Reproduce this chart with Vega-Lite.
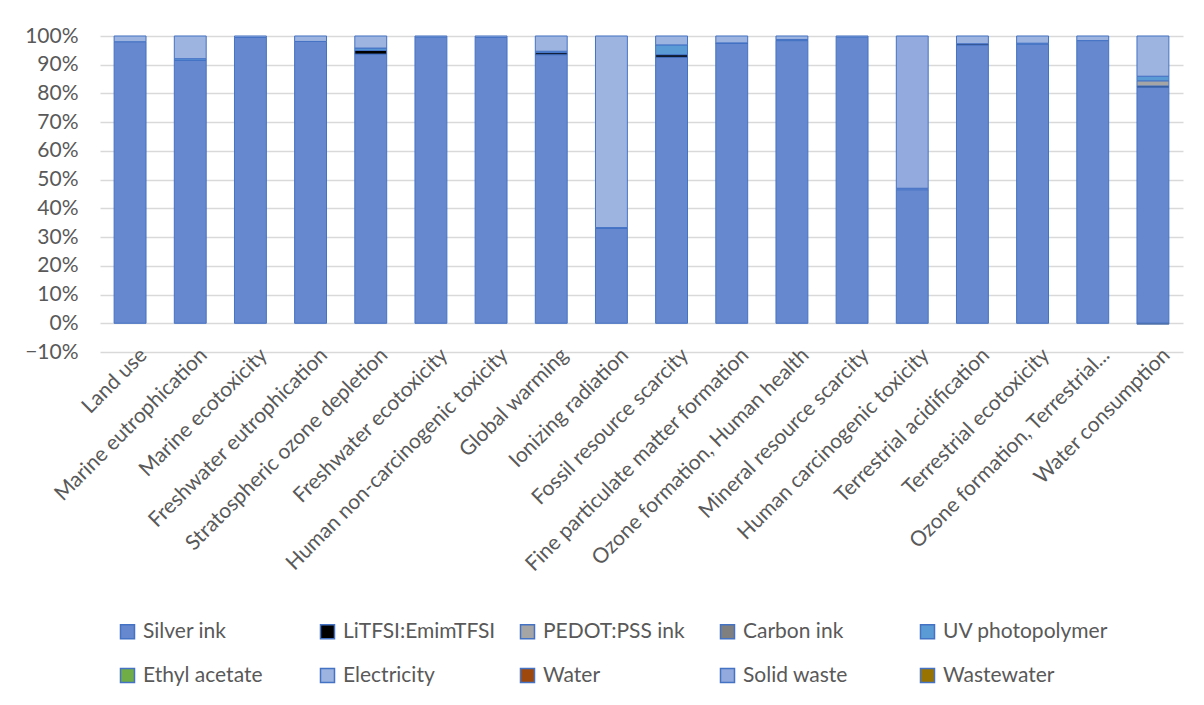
{
  "$schema": "https://vega.github.io/schema/vega-lite/v6.json",
  "width": 1083,
  "height": 316,
  "autosize": {"type": "none"},
  "padding": {"left": 100, "top": 36, "right": 21, "bottom": 353},
  "background": "white",
  "data": {
    "values": [
      {"impact": "Land use", "source": "Silver ink", "value": 0.980},
      {"impact": "Land use", "source": "Electricity", "value": 0.020},
      {"impact": "Marine eutrophication", "source": "Silver ink", "value": 0.915},
      {"impact": "Marine eutrophication", "source": "UV photopolymer", "value": 0.006},
      {"impact": "Marine eutrophication", "source": "Electricity", "value": 0.079},
      {"impact": "Marine ecotoxicity", "source": "Silver ink", "value": 0.995},
      {"impact": "Marine ecotoxicity", "source": "Electricity", "value": 0.005},
      {"impact": "Freshwater eutrophication", "source": "Silver ink", "value": 0.981},
      {"impact": "Freshwater eutrophication", "source": "Electricity", "value": 0.019},
      {"impact": "Stratospheric ozone depletion", "source": "Silver ink", "value": 0.937},
      {"impact": "Stratospheric ozone depletion", "source": "LiTFSI:EmimTFSI", "value": 0.013},
      {"impact": "Stratospheric ozone depletion", "source": "UV photopolymer", "value": 0.008},
      {"impact": "Stratospheric ozone depletion", "source": "Electricity", "value": 0.042},
      {"impact": "Freshwater ecotoxicity", "source": "Silver ink", "value": 0.996},
      {"impact": "Freshwater ecotoxicity", "source": "Electricity", "value": 0.004},
      {"impact": "Human non-carcinogenic toxicity", "source": "Silver ink", "value": 0.995},
      {"impact": "Human non-carcinogenic toxicity", "source": "Electricity", "value": 0.005},
      {"impact": "Global warming", "source": "Silver ink", "value": 0.935},
      {"impact": "Global warming", "source": "LiTFSI:EmimTFSI", "value": 0.007},
      {"impact": "Global warming", "source": "UV photopolymer", "value": 0.005},
      {"impact": "Global warming", "source": "Electricity", "value": 0.053},
      {"impact": "Ionizing radiation", "source": "Silver ink", "value": 0.330},
      {"impact": "Ionizing radiation", "source": "UV photopolymer", "value": 0.003},
      {"impact": "Ionizing radiation", "source": "Electricity", "value": 0.667},
      {"impact": "Fossil resource scarcity", "source": "Silver ink", "value": 0.926},
      {"impact": "Fossil resource scarcity", "source": "LiTFSI:EmimTFSI", "value": 0.009},
      {"impact": "Fossil resource scarcity", "source": "UV photopolymer", "value": 0.034},
      {"impact": "Fossil resource scarcity", "source": "Electricity", "value": 0.031},
      {"impact": "Fine particulate matter formation", "source": "Silver ink", "value": 0.974},
      {"impact": "Fine particulate matter formation", "source": "LiTFSI:EmimTFSI", "value": 0.002},
      {"impact": "Fine particulate matter formation", "source": "Electricity", "value": 0.024},
      {"impact": "Ozone formation, Human health", "source": "Silver ink", "value": 0.984},
      {"impact": "Ozone formation, Human health", "source": "UV photopolymer", "value": 0.004},
      {"impact": "Ozone formation, Human health", "source": "Electricity", "value": 0.012},
      {"impact": "Mineral resource scarcity", "source": "Silver ink", "value": 0.996},
      {"impact": "Mineral resource scarcity", "source": "Electricity", "value": 0.004},
      {"impact": "Human carcinogenic toxicity", "source": "Silver ink", "value": 0.465},
      {"impact": "Human carcinogenic toxicity", "source": "Electricity", "value": 0.005},
      {"impact": "Human carcinogenic toxicity", "source": "Solid waste", "value": 0.530},
      {"impact": "Terrestrial acidification", "source": "Silver ink", "value": 0.969},
      {"impact": "Terrestrial acidification", "source": "LiTFSI:EmimTFSI", "value": 0.004},
      {"impact": "Terrestrial acidification", "source": "Electricity", "value": 0.027},
      {"impact": "Terrestrial ecotoxicity", "source": "Silver ink", "value": 0.972},
      {"impact": "Terrestrial ecotoxicity", "source": "UV photopolymer", "value": 0.003},
      {"impact": "Terrestrial ecotoxicity", "source": "Electricity", "value": 0.025},
      {"impact": "Ozone formation, Terrestrial...", "source": "Silver ink", "value": 0.984},
      {"impact": "Ozone formation, Terrestrial...", "source": "Electricity", "value": 0.016},
      {"impact": "Water consumption", "source": "Silver ink", "value": 0.822},
      {"impact": "Water consumption", "source": "LiTFSI:EmimTFSI", "value": 0.004},
      {"impact": "Water consumption", "source": "PEDOT:PSS ink", "value": 0.018},
      {"impact": "Water consumption", "source": "UV photopolymer", "value": 0.016},
      {"impact": "Water consumption", "source": "Electricity", "value": 0.140},
      {"impact": "Water consumption", "source": "Wastewater", "value": -0.003}
    ]
  },
  "transform": [
    {"calculate": "indexof(['Silver ink','LiTFSI:EmimTFSI','PEDOT:PSS ink','Carbon ink','UV photopolymer','Ethyl acetate','Electricity','Water','Solid waste','Wastewater'], datum.source)", "as": "stackOrder"}
  ],
  "mark": {"type": "bar", "stroke": "#4472C4", "strokeWidth": 1},
  "encoding": {
    "x": {
      "field": "impact",
      "type": "nominal",
      "sort": null,
      "scale": {"paddingInner": 0.47, "paddingOuter": 0.235},
      "axis": {
        "title": null,
        "labelAngle": -45,
        "labelFont": "Lato",
        "labelFontSize": 21,
        "labelColor": "#595959",
        "labelPadding": -8,
        "labelOffset": 6,
        "labelLimit": 400,
        "ticks": false,
        "domain": false
      }
    },
    "y": {
      "field": "value",
      "type": "quantitative",
      "stack": "zero",
      "scale": {"domain": [-0.1, 1], "nice": false, "zero": false},
      "axis": {
        "title": null,
        "values": [-0.1, 0, 0.1, 0.2, 0.3, 0.4, 0.5, 0.6, 0.7, 0.8, 0.9, 1],
        "format": ".0%",
        "labelFont": "Lato",
        "labelFontSize": 21,
        "labelColor": "#595959",
        "labelPadding": 22,
        "ticks": false,
        "domain": false,
        "grid": true,
        "gridColor": "#D9D9D9",
        "gridWidth": 1.3
      }
    },
    "order": {"field": "stackOrder", "type": "quantitative", "sort": "ascending"},
    "color": {
      "field": "source",
      "type": "nominal",
      "sort": ["Silver ink", "LiTFSI:EmimTFSI", "PEDOT:PSS ink", "Carbon ink", "UV photopolymer", "Ethyl acetate", "Electricity", "Water", "Solid waste", "Wastewater"],
      "scale": {
        "domain": ["Silver ink", "LiTFSI:EmimTFSI", "PEDOT:PSS ink", "Carbon ink", "UV photopolymer", "Ethyl acetate", "Electricity", "Water", "Solid waste", "Wastewater"],
        "range": ["#6688CE", "#000000", "#A5A5A5", "#7F7F7F", "#5B9BD5", "#70AD47", "#9DB4E0", "#9E480E", "#92AADD", "#997300"]
      },
      "legend": {
        "title": null,
        "orient": "none",
        "legendX": 17,
        "legendY": 585,
        "direction": "horizontal",
        "columns": 5,
        "gridAlign": "all",
        "columnPadding": 8,
        "rowPadding": 22,
        "symbolType": "square",
        "symbolSize": 196,
        "symbolStrokeColor": "#4472C4",
        "symbolStrokeWidth": 1.5,
        "labelFont": "Lato",
        "labelFontSize": 21,
        "labelColor": "#595959",
        "labelOffset": 5,
        "labelLimit": 300
      }
    }
  },
  "config": {"view": {"stroke": null}}
}
